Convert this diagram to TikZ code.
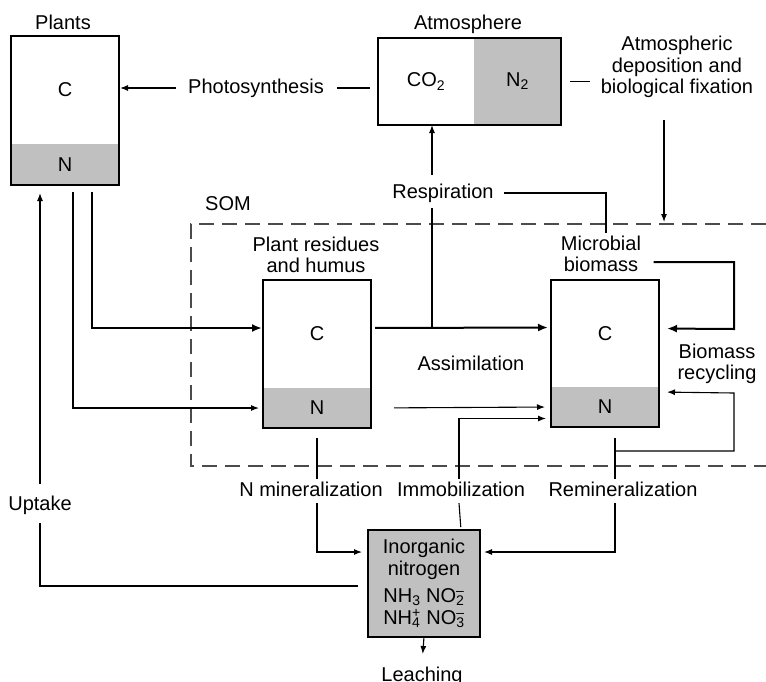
\documentclass[tikz,border=0pt]{standalone}
\usepackage{fontspec}
\setmainfont{Liberation Sans}
\usetikzlibrary{arrows.meta,positioning,calc}
\definecolor{poolgray}{RGB}{192,192,192}
\definecolor{somgray}{RGB}{75,75,75}
\newcommand\cnfont{\fontsize{20}{21.5}\selectfont}
\newcommand\ionsub[2]{\makebox[0pt][l]{\textsubscript{#1}}\textsuperscript{#2}}
\tikzset{
  pool/.style={fill=#1, inner sep=0pt, outer sep=0pt, minimum width=108pt, font=\cnfont},
  poolframe/.style={draw, line width=2pt},
  lbl/.style={inner sep=2pt, font=\cnfont, text height=15pt, text depth=4pt},
  mlbl/.style={inner sep=2pt, font=\cnfont, align=center},
  flow/.style={-{Latex[length=8pt,width=6pt]}, line width=1.1pt},
  bigflow/.style={-{Latex[length=10pt,width=8pt]}, line width=2pt},
  somline/.style={draw=somgray, line width=1.3pt, dash pattern=on 15pt off 8pt},
}

\begin{document}
\begin{tikzpicture}[x=1pt, y=-1pt, line width=1.1pt]
\useasboundingbox (0,0) rectangle (766,681);

% SOM boundary
\coordinate (somNE) at (766,224);
\coordinate (somNW) at (191,224);
\coordinate (somSW) at (191,466);
\coordinate (somSE) at (766,466);
\draw[somline] (somNE) -- (somNW) -- (somSW) -- (somSE);
\node[lbl] (somlbl) at (228,205) {SOM};

% Plants
\node[pool=white, minimum height=108pt] (plantsC) at (65,90) {C};
\node[pool=poolgray, minimum height=41pt, below=0pt of plantsC] (plantsN) {N};
\draw[poolframe] (plantsC.north west) rectangle (plantsN.south east);
\node[lbl] (plantslbl) at (63,24) {Plants};

% Atmosphere
\node[pool=white, minimum width=96pt, minimum height=87pt] (atmC) at (426,81.5) {CO\textsubscript{2}};
\node[pool=poolgray, minimum width=87pt, minimum height=87pt, right=0pt of atmC] (atmN) {N\textsubscript{2}};
\draw[poolframe] (atmC.north west) rectangle (atmN.south east);
\node[lbl] (atmlbl) at (468,24) {Atmosphere};

% Plant residues and humus
\node[pool=white, minimum height=108pt] (resC) at (317,334) {C};
\node[pool=poolgray, minimum height=40pt, below=0pt of resC] (resN) {N};
\draw[poolframe] (resC.north west) rectangle (resN.south east);
\node[mlbl] (reslbl) at (316,255) {Plant residues\\and humus};

% Microbial biomass
\node[pool=white, minimum height=107pt] (micC) at (605,333.5) {C};
\node[pool=poolgray, minimum height=40pt, below=0pt of micC] (micN) {N};
\draw[poolframe] (micC.north west) rectangle (micN.south east);
\node[mlbl] (miclbl) at (601,254) {Microbial\\biomass};

% Inorganic nitrogen
\node[pool=poolgray, draw, line width=2pt, minimum width=112pt, minimum height=107pt,
      align=center, font=\fontsize{20}{22}\selectfont] (inorg) at (424,583.5)
      {Inorganic\\nitrogen\\[5pt]NH\textsubscript{3} NO\ionsub{2}{--}\\NH\ionsub{4}{+} NO\ionsub{3}{--}};

% Process labels
\node[lbl] (photo) at (256,88) {Photosynthesis};
\node[mlbl] (deposit) at (677,67) {Atmospheric\\deposition and\\biological fixation};
\node[lbl] (resp) at (443,193) {Respiration};
\node[lbl] (assim) at (471,365) {Assimilation};
\node[mlbl] (recyc) at (717,364) {Biomass\\recycling};
\node[lbl] (uptake) at (40,505) {Uptake};
\node[lbl] (nmin) at (311,491) {N mineralization};
\node[lbl] (immob) at (461,491) {Immobilization};
\node[lbl] (remin) at (623,491) {Remineralization};
\node[lbl] (leach) at (422,676) {Leaching};

% Photosynthesis
\draw[flow, shorten <=10pt, shorten >=1pt] (photo.west) -- (plantsC.east |- photo.west);
\draw[shorten <=11pt, shorten >=8pt] (photo.east) -- (atmC.west |- photo.east);

% Deposition and fixation
\coordinate (depin) at (664,224);
\draw[shorten <=9pt, shorten >=8pt] (atmN.east) -- (deposit.west |- atmN.east);
\draw[flow, shorten <=20pt, shorten >=2pt] (deposit.south -| depin) -- (depin);

% Respiration
\coordinate (rj) at (432,328);
\draw[flow, shorten <=6pt] (resp.north -| rj) -- (rj |- atmC.south);
\draw[shorten <=3pt] (resp.south -| rj) -- (rj);
\draw[shorten <=8pt] (resp.east) -| ([xshift=5pt]miclbl.north);

% Carbon flows
\draw[bigflow, shorten <=4pt, shorten >=3pt] ([yshift=6pt]resC.east) -- ([yshift=6pt]micC.west);
\draw[bigflow, shorten >=1pt] ([xshift=27pt,yshift=-7pt]plantsN.south) |- ([yshift=6pt]resC.west);
\draw[flow, shorten >=4pt] ([xshift=8pt,yshift=-7pt]plantsN.south) |- (resN.west);

% Uptake
\draw ([xshift=-10pt,yshift=-2.5pt]inorg.west) -| ([yshift=-6pt]uptake.south);
\draw[flow, shorten <=9pt, shorten >=8pt] (uptake.north) -- (uptake.north |- plantsN.south);

% Nitrogen flows
\draw[flow, shorten <=23pt, shorten >=6pt] (resN.east) -- (micN.west);
\draw[shorten <=3pt] (inorg.north -| immob.south) -- ([xshift=-2pt]immob.south);
\draw[flow, shorten >=5pt] ([xshift=-2pt]immob.north) |- ([yshift=-11.5pt]micN.west);
\draw[shorten <=10pt] (resN.south) -- (nmin.north -| resN.south);
\draw[flow, shorten >=6pt] (nmin.south -| resN.south) |- ([yshift=31.5pt]inorg.west);
\coordinate (rm) at ([xshift=10pt]micN.south);
\draw[shorten <=11pt] (rm) -- (remin.north -| rm);
\draw[flow, shorten >=4pt] (remin.south -| rm) |- ([yshift=31.5pt]inorg.east);
\draw[flow, shorten >=10pt] (inorg.south) -- (leach.north);

% Biomass recycling
\coordinate (recycT) at (734,262);
\coordinate (recycM) at (734,329);
\coordinate (recycA) at (734,451);
\coordinate (recycB) at (734,393);
\draw[bigflow, shorten <=10pt, shorten >=8pt] ([yshift=-8pt]miclbl.east) -- (recycT) -- (recycM) -- ([yshift=5pt]micC.east);
\draw[flow, shorten >=8pt] ($(rm)+(0,24)$) -- (recycA) -- (recycB) -- ([yshift=15pt]micN.east);

\end{tikzpicture}
\end{document}
